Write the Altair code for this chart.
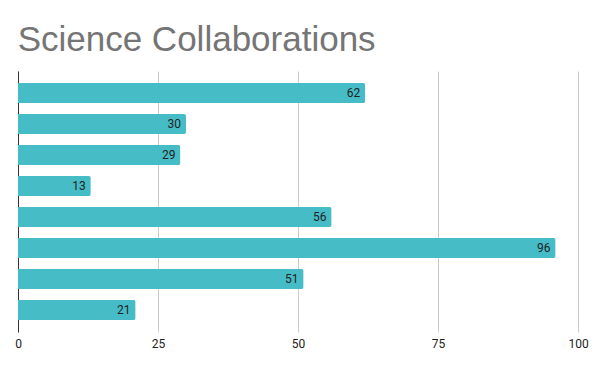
import altair as alt
import pandas as pd

categories = ["Cat 1", "Cat 2", "Cat 3", "Cat 4", "Cat 5", "Cat 6", "Cat 7", "Cat 8"]
values = [62, 30, 29, 13, 56, 96, 51, 21]
x_ticks = [0, 25, 50, 75, 100]

df = pd.DataFrame({"category": categories, "value": values})

base = alt.Chart(df).encode(
    y=alt.Y(
        "category:N",
        sort=categories,
        scale=alt.Scale(paddingInner=0.355, paddingOuter=0.39),
        axis=alt.Axis(labels=False, ticks=False, title=None, domain=True,
                      domainColor="#333333", domainWidth=1, grid=False),
    ),
    x=alt.X(
        "value:Q",
        scale=alt.Scale(domain=[0, 100], nice=False),
        axis=alt.Axis(values=x_ticks, title=None, domain=False, ticks=False,
                      grid=True, gridColor="#cccccc", labelFont="Roboto",
                      labelFontSize=12, labelColor="#222222", labelPadding=6,
                      labelFlush=False),
    ),
)

bars = base.mark_bar(color="#46BDC6", cornerRadiusEnd=2)
text = base.mark_text(align="right", baseline="middle", dx=-5, font="Roboto",
                      fontSize=12, color="#222222").encode(text="value:Q")

chart = (bars + text).properties(
    width=560,
    height=261,
    title=alt.Title("Science Collaborations", anchor="start", font="Liberation Sans",
                    fontSize=35, color="#757575", fontWeight="normal", offset=13,
                    dx=3),
    padding={"left": 10, "top": 63, "right": 14, "bottom": 31},
    autosize=alt.AutoSizeParams(type="none"),
).configure_view(stroke=None)

chart.save("out.html", embed_options={"renderer": "svg", "actions": False})
